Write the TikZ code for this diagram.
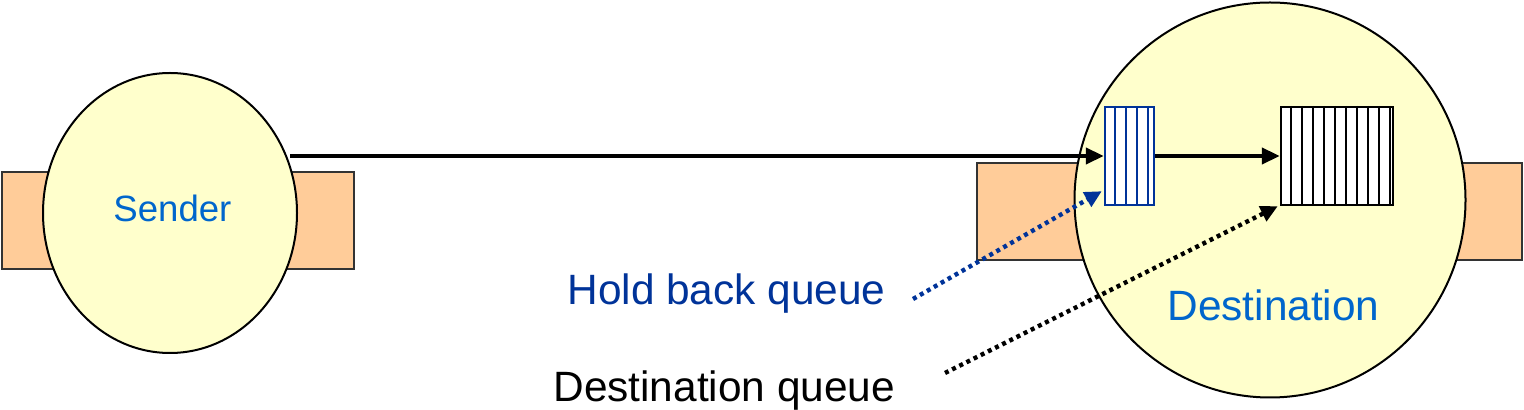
\documentclass[tikz,border=0pt]{standalone}
\usepackage{fontspec}
\setmainfont{Liberation Sans}
\usetikzlibrary{arrows.meta,shapes.geometric}
\definecolor{peach}{HTML}{FFCC99}
\definecolor{paleyellow}{HTML}{FFFFCC}
\definecolor{lblue}{HTML}{0066CC}
\definecolor{dblue}{HTML}{003399}
\tikzset{
  pad/.style={draw=black!80, line width=1.1pt, fill=peach},
  proc/.style={ellipse, draw=black, line width=1pt, fill=paleyellow, inner sep=0pt},
  qbox/.style={draw, line width=1.2pt, fill=white, inner sep=0pt, minimum height=49pt},
  flow/.style={line width=2pt, -{Triangle[length=9pt,width=8pt]}},
  pointer/.style={line width=2.2pt, dash pattern=on 2pt off 2pt, -{Triangle[length=8.5pt,width=8pt]}},
  bigtxt/.style={anchor=base west, inner sep=0pt, font=\fontsize{21.2}{24}\selectfont},
  smalltxt/.style={anchor=base west, inner sep=0pt, font=\fontsize{18.3}{22}\selectfont}
}
\begin{document}
\begin{tikzpicture}[x=0.5pt,y=-0.5pt]
\useasboundingbox (0,0) rectangle (1524,410);
% pads behind the processes
\draw[pad] (2,172) rectangle (354,269);
\draw[pad] (977,163) rectangle (1522,260);
% processes
\node[proc, minimum width=127pt, minimum height=140pt] (sender) at (170,213) {};
\node[proc, minimum width=195.5pt, minimum height=197.5pt] (destination) at (1270,200) {};
\node[smalltxt, text=lblue] (sendertxt) at (113,222) {Sender};
\node[bigtxt, text=lblue] (desttxt) at (1167,321) {Destination};
% queues
\node[qbox, draw=dblue, minimum width=24.5pt] (hold) at (1129.5,156) {};
\foreach \i in {1,...,4}
  \draw[dblue, line width=1pt] ([xshift=5.5pt*\i]hold.north west) -- ([xshift=5.5pt*\i]hold.south west);
\node[qbox, draw=black, minimum width=56pt] (dq) at (1337,156) {};
\foreach \i in {1,...,10}
  \draw[black, line width=1pt] ([xshift=5.5pt*\i]dq.north west) -- ([xshift=5.5pt*\i]dq.south west);
% message flow
\coordinate (s1) at (290,156);
\draw[flow] (s1) -- (hold.west);
\draw[flow] (hold.east) -- (dq.west);
% labels and pointers
\node[bigtxt, text=dblue] (holdtxt) at (567,305) {Hold back queue};
\node[bigtxt, text=black] (dqtxt) at (553,402) {Destination queue};
\coordinate (p1) at (913,299);
\coordinate (p2) at (945,373);
\draw[pointer, dblue] (p1) -- ([yshift=7.5pt,xshift=-1pt]hold.south west);
\draw[pointer, black] (p2) -- ([xshift=-1pt]dq.south west);
\end{tikzpicture}
\end{document}
